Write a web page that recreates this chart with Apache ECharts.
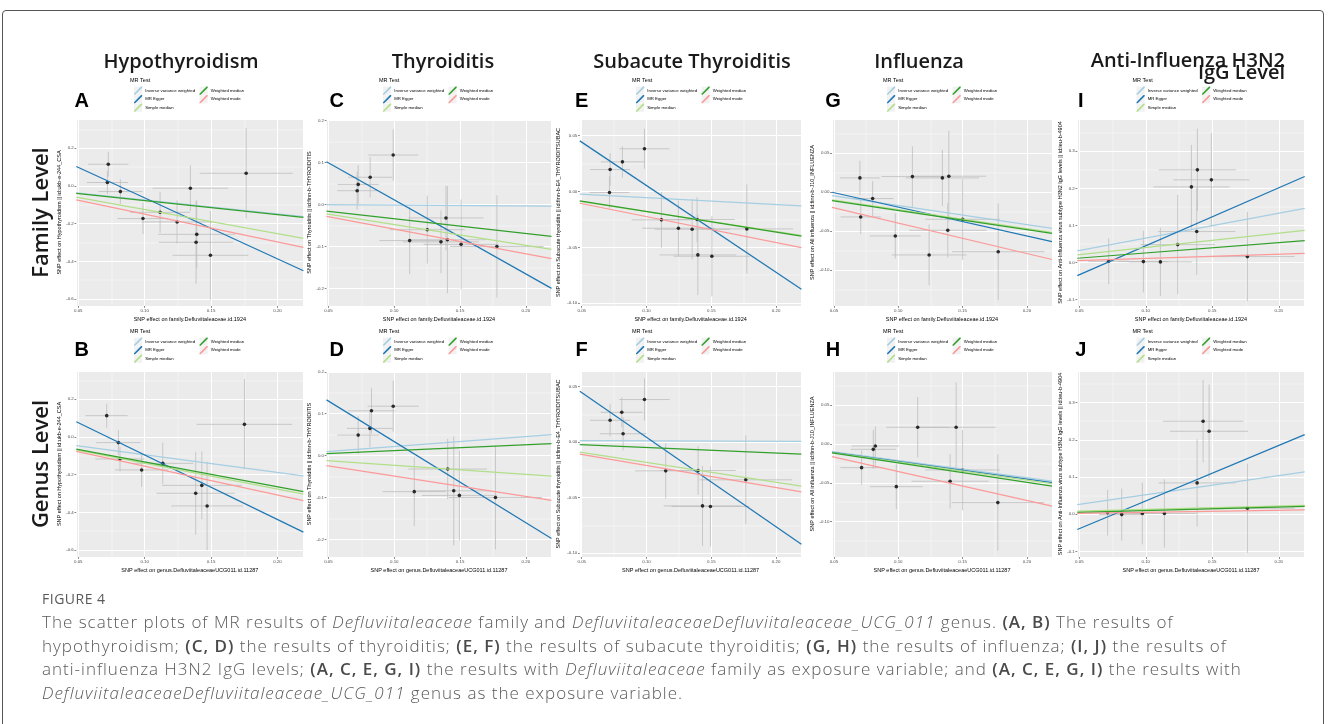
<!DOCTYPE html>
<html>
<head>
<meta charset="utf-8">
<script src="https://cdn.jsdelivr.net/npm/echarts@6/dist/echarts.min.js"></script>
<style>
  html, body { margin: 0; padding: 0; background: #fff; }
  #wrap { position: relative; width: 1328px; height: 724px; overflow: hidden; }
  #frame { position: absolute; left: 2px; top: 10px; width: 1320px; height: 780px; border: 1px solid #555; border-radius: 4px; }
  #chart { position: absolute; left: 0; top: 0; width: 1328px; height: 724px; }
  #cap { position: absolute; left: 42px; top: 589px; font-family: 'Open Sans', sans-serif; color: #5a5a5a; white-space: nowrap; }
  #cap .fig { font-size: 14px; letter-spacing: 0.5px; height: 21px; line-height: 20px; }
  #cap .ln { font-size: 17px; line-height: 23.7px; font-weight: 300; letter-spacing: 1px; }
  #cap b { font-weight: 600; color: #4a4a4a; }
</style>
</head>
<body>
<div id="wrap">
  <div id="frame"></div>
  <div id="chart"></div>
  <div id="cap">
    <div class="fig">FIGURE 4</div>
    <div class="ln">The scatter plots of MR results of <i>Defluviitaleaceae</i> family and <i>DefluviitaleaceaeDefluviitaleaceae_UCG_011</i> genus. <b>(A, B)</b> The results of</div>
    <div class="ln">hypothyroidism; <b>(C, D)</b> the results of thyroiditis; <b>(E, F)</b> the results of subacute thyroiditis; <b>(G, H)</b> the results of influenza; <b>(I, J)</b> the results of</div>
    <div class="ln">anti-influenza H3N2 IgG levels; <b>(A, C, E, G, I)</b> the results with <i>Defluviitaleaceae</i> family as exposure variable; and <b>(A, C, E, G, I)</b> the results with</div>
    <div class="ln"><i>DefluviitaleaceaeDefluviitaleaceae_UCG_011</i> genus as the exposure variable.</div>
  </div>
</div>
<script>
// MR methods, legend order (first three in column 1, last two in column 2)
const METHODS = ['Inverse variance weighted', 'MR Egger', 'Simple median', 'Weighted median', 'Weighted mode'];
const METHOD_COLORS = ['#A6CEE3', '#1F78B4', '#B2DF8A', '#33A02C', '#FB9A99'];

const COL_TITLES = ['Hypothyroidism', 'Thyroiditis', 'Subacute Thyroiditis', 'Influenza'];
const ROW_TITLES = ['Family Level', 'Genus Level'];
const Y_TITLES = [
  'SNP effect on Hypothyroidism || id:ukb-e-244_CSA',
  'SNP effect on Thyroiditis || id:finn-b-THYROIDITIS',
  'SNP effect on Subacute thyroiditis || id:finn-b-E4_THYROIDITSUBAC',
  'SNP effect on All influenza || id:finn-b-J10_INFLUENZA',
  'SNP effect on Anti-Influenza virus subtype H3N2 IgG levels || id:ieu-b-4904'
];
const X_TITLES = ['SNP effect on family.Defluviitaleaceae.id.1924', 'SNP effect on genus.DefluviitaleaceaeUCG011.id.11287'];

// SNP points: [beta exposure, beta outcome, se exposure, se outcome]
const A_pts = [[0.0726, 0.115, 0.0151, 0.066], [0.0719, 0.018, 0.0155, 0.062], [0.0817, -0.030, 0.0166, 0.065],
  [0.0987, -0.173, 0.019, 0.082], [0.1116, -0.140, 0.0226, 0.109], [0.1244, -0.191, 0.0266, 0.115],
  [0.1344, -0.012, 0.0285, 0.121], [0.1392, -0.257, 0.029, 0.18], [0.1387, -0.299, 0.028, 0.22],
  [0.1495, -0.368, 0.0285, 0.235], [0.1764, 0.067, 0.035, 0.24]];
const B_pts = [[0.0714, 0.113, 0.0158, 0.064], [0.0802, -0.030, 0.0167, 0.066], [0.0814, -0.117, 0.0186, 0.066],
  [0.0977, -0.175, 0.02, 0.09], [0.1136, -0.140, 0.023, 0.11], [0.143, -0.257, 0.03, 0.18],
  [0.1384, -0.299, 0.0295, 0.22], [0.147, -0.366, 0.027, 0.235], [0.1751, 0.067, 0.036, 0.24]];
const C_pts = [[0.0992, 0.118, 0.019, 0.061], [0.0817, 0.065, 0.0167, 0.048], [0.0726, 0.048, 0.0156, 0.046],
  [0.0718, 0.033, 0.0152, 0.046], [0.1393, -0.032, 0.0285, 0.077], [0.1251, -0.060, 0.0285, 0.081],
  [0.1117, -0.086, 0.023, 0.08], [0.1355, -0.089, 0.029, 0.075], [0.1404, -0.084, 0.029, 0.128],
  [0.1508, -0.095, 0.0285, 0.107], [0.178, -0.10, 0.0355, 0.122]];
const D_pts = [[0.0992, 0.118, 0.0195, 0.061], [0.0827, 0.107, 0.0178, 0.054], [0.0815, 0.065, 0.0174, 0.045],
  [0.0726, 0.049, 0.0159, 0.045], [0.1406, -0.032, 0.030, 0.072], [0.1152, -0.086, 0.024, 0.082],
  [0.1452, -0.084, 0.0285, 0.13], [0.1495, -0.095, 0.0285, 0.107], [0.1769, -0.10, 0.0355, 0.124]];
const E_pts = [[0.0984, 0.0383, 0.0193, 0.018], [0.0814, 0.0266, 0.0167, 0.014], [0.0719, 0.0197, 0.0154, 0.0145],
  [0.0714, -0.0009, 0.0154, 0.0145], [0.1115, -0.0254, 0.023, 0.025], [0.139, -0.0251, 0.029, 0.02],
  [0.1246, -0.0329, 0.028, 0.025], [0.1352, -0.0338, 0.029, 0.027], [0.1774, -0.0335, 0.0357, 0.04],
  [0.1396, -0.0568, 0.0296, 0.036], [0.1504, -0.058, 0.0296, 0.036]];
const F_pts = [[0.0984, 0.0383, 0.0195, 0.019], [0.0809, 0.0268, 0.0163, 0.0135], [0.0719, 0.0196, 0.0156, 0.0145],
  [0.0819, 0.0075, 0.018, 0.015], [0.1148, -0.0259, 0.0236, 0.025], [0.1398, -0.0256, 0.029, 0.022],
  [0.1766, -0.034, 0.0357, 0.04], [0.1432, -0.0575, 0.03, 0.036], [0.1493, -0.058, 0.03, 0.036]];
const G_pts = [[0.0702, 0.0184, 0.0156, 0.022], [0.0801, -0.0081, 0.0162, 0.0225], [0.0708, -0.0317, 0.0156, 0.022],
  [0.111, 0.0201, 0.024, 0.039], [0.1343, 0.0184, 0.0285, 0.036], [0.1393, 0.0206, 0.029, 0.058],
  [0.0977, -0.0561, 0.0197, 0.029], [0.124, -0.0805, 0.029, 0.039], [0.1385, -0.0488, 0.03, 0.035],
  [0.15, -0.0347, 0.029, 0.052], [0.1777, -0.0763, 0.036, 0.062]];
const H_pts = [[0.1151, 0.0215, 0.0244, 0.039], [0.145, 0.0215, 0.0305, 0.058], [0.0822, -0.0026, 0.0184, 0.025],
  [0.0806, -0.0069, 0.0175, 0.025], [0.0715, -0.0305, 0.0165, 0.022], [0.0985, -0.055, 0.0205, 0.029],
  [0.15, -0.0335, 0.029, 0.052], [0.1403, -0.048, 0.03, 0.035], [0.1774, -0.0755, 0.036, 0.062]];
const I_pts = [[0.1388, 0.250, 0.029, 0.111], [0.1493, 0.223, 0.0286, 0.126], [0.1343, 0.204, 0.0286, 0.113],
  [0.1383, 0.0836, 0.029, 0.117], [0.124, 0.0485, 0.028, 0.134], [0.0721, 0.0036, 0.0153, 0.0616],
  [0.0982, 0.0027, 0.0188, 0.083], [0.111, 0.0018, 0.0236, 0.092], [0.1764, 0.0162, 0.0355, 0.12]];
const J_pts = [[0.1431, 0.25, 0.0303, 0.111], [0.1476, 0.223, 0.0293, 0.126], [0.1386, 0.0842, 0.029, 0.117],
  [0.0713, 0.004, 0.0153, 0.0616], [0.0819, -0.001, 0.017, 0.07], [0.0974, 0.002, 0.0188, 0.083],
  [0.114, 0.002, 0.0236, 0.092], [0.1764, 0.016, 0.0355, 0.12]];

// fitted lines, read at the left and right edge of each panel, in METHODS order
const A_fits = [[-0.037, -0.163], [0.103, -0.45], [-0.060, -0.278], [-0.040, -0.167], [-0.074, -0.326]];
const B_fits = [[-0.046, -0.207], [0.081, -0.505], [-0.069, -0.303], [-0.065, -0.290], [-0.076, -0.338]];
const C_fits = [[0.0, -0.004], [0.102, -0.2], [-0.022, -0.107], [-0.016, -0.076], [-0.028, -0.129]];
const D_fits = [[0.0095, 0.050], [0.133, -0.198], [-0.012, -0.049], [0.0048, 0.0285], [-0.024, -0.107]];
const E_fits = [[-0.0024, -0.0129], [0.0454, -0.0876], [-0.0088, -0.0394], [-0.0084, -0.040], [-0.0105, -0.0502]];
const F_fits = [[0.0012, 0.0006], [0.0458, -0.092], [-0.009, -0.0396], [-0.0024, -0.0108], [-0.0108, -0.0448]];
const G_fits = [[-0.0043, -0.0463], [0.0, -0.0634], [-0.0099, -0.0516], [-0.0107, -0.0529], [-0.0193, -0.0863]];
const H_fits = [[-0.0100, -0.048], [-0.0107, -0.0498], [-0.011, -0.051], [-0.0115, -0.0544], [-0.0163, -0.080]];
const I_fits = [[0.0314, 0.146], [-0.035, 0.232], [0.0207, 0.087], [0.0117, 0.059], [0.0054, 0.025]];
const J_fits = [[0.026, 0.114], [-0.041, 0.214], [0.008, 0.024], [0.005, 0.021], [0.002, 0.012]];

const X_MIN = 0.0485, X_MAX = 0.2195;

// panel layout
const COLS = [
  { left: 76.3, width: 227.1, key: 134, letter: 81.7, nameGap: 13.5 },
  { left: 326.5, width: 225, key: 383, letter: 336.7, nameGap: 13.5 },
  { left: 579.8, width: 221.6, key: 636, letter: 581.7, nameGap: 18.5 },
  { left: 832, width: 220, key: 887, letter: 833, nameGap: 16.5 },
  { left: 1077.3, width: 227.4, key: 1136.5, letter: 1080.7, nameGap: 13.5 }
];
const ROWS = [
  { top: 119, height: 187, legend: 86.6, letter: 101, mr: 80.7 },
  { top: 371, height: 186, legend: 337.6, letter: 350, mr: 331.7 }
];
const PANELS = [
  { id: 'A', pts: A_pts, fits: A_fits, col: 0, row: 0, ymin: -0.637, ymax: 0.355, step: 0.2, dec: 1 },
  { id: 'B', pts: B_pts, fits: B_fits, col: 0, row: 1, ymin: -0.637, ymax: 0.350, step: 0.2, dec: 1 },
  { id: 'C', pts: C_pts, fits: C_fits, col: 1, row: 0, ymin: -0.242, ymax: 0.204, step: 0.1, dec: 1 },
  { id: 'D', pts: D_pts, fits: D_fits, col: 1, row: 1, ymin: -0.242, ymax: 0.202, step: 0.1, dec: 1 },
  { id: 'E', pts: E_pts, fits: E_fits, col: 2, row: 0, ymin: -0.1026, ymax: 0.065, step: 0.05, dec: 2 },
  { id: 'F', pts: F_pts, fits: F_fits, col: 2, row: 1, ymin: -0.1035, ymax: 0.064, step: 0.05, dec: 2 },
  { id: 'G', pts: G_pts, fits: G_fits, col: 3, row: 0, ymin: -0.146, ymax: 0.094, step: 0.05, dec: 2 },
  { id: 'H', pts: H_pts, fits: H_fits, col: 3, row: 1, ymin: -0.1456, ymax: 0.094, step: 0.05, dec: 2 },
  { id: 'I', pts: I_pts, fits: I_fits, col: 4, row: 0, ymin: -0.117, ymax: 0.387, step: 0.1, dec: 1 },
  { id: 'J', pts: J_pts, fits: J_fits, col: 4, row: 1, ymin: -0.115, ymax: 0.385, step: 0.1, dec: 1 }
];

const FONT = 'Liberation Sans';
const HEAD_FONT = 'Open Sans';

// gray error bars (x and y) clipped to the panel
function renderBars(params, api) {
  const cs = params.coordSys;
  const cx = v => Math.max(cs.x, Math.min(cs.x + cs.width, v));
  const cy = v => Math.max(cs.y, Math.min(cs.y + cs.height, v));
  const x = api.value(0), y = api.value(1), sx = api.value(2), sy = api.value(3);
  const l = api.coord([x - sx, y]), r = api.coord([x + sx, y]);
  const t = api.coord([x, y + sy]), b = api.coord([x, y - sy]);
  const st = { stroke: '#BEBEBE', lineWidth: 0.8 };
  return {
    type: 'group',
    children: [
      { type: 'line', shape: { x1: cx(l[0]), y1: l[1], x2: cx(r[0]), y2: r[1] }, style: st },
      { type: 'line', shape: { x1: t[0], y1: cy(t[1]), x2: b[0], y2: cy(b[1]) }, style: st }
    ]
  };
}

let grid = [], xAxis = [], yAxis = [], series = [], legend = [], graphic = [];

PANELS.forEach((p, i) => {
  const c = COLS[p.col], r = ROWS[p.row];
  grid.push({ left: c.left, top: r.top, width: c.width, height: r.height, show: false });
  // panel background, under the axes' white grid lines
  graphic.push({ type: 'rect', z: -10, silent: true,
    shape: { x: c.left, y: r.top, width: c.width, height: r.height }, style: { fill: '#EBEBEB' } });

  const axisCommon = {
    z: 1,
    axisLine: { show: false, onZero: false },
    axisTick: { show: true, length: 1.8, lineStyle: { color: '#333', width: 0.6 } },
    splitLine: { show: true, lineStyle: { color: '#FFFFFF', width: 1, type: 'solid' } },
    minorTick: { show: false, splitNumber: 2 },
    minorSplitLine: { show: true, lineStyle: { color: '#FFFFFF', width: 0.45, type: 'solid' } },
    nameTextStyle: { fontFamily: FONT, fontSize: 5.5, color: '#000' }
  };
  xAxis.push(Object.assign({}, axisCommon, {
    type: 'value', gridIndex: i, min: X_MIN, max: X_MAX, minInterval: 0.05, maxInterval: 0.05,
    name: X_TITLES[p.row], nameLocation: 'middle', nameGap: 10.5,
    axisLabel: { fontFamily: FONT, fontSize: 4.4, color: '#4D4D4D', margin: 2.5,
      showMinLabel: false, showMaxLabel: false, formatter: v => v.toFixed(2) }
  }));
  yAxis.push(Object.assign({}, axisCommon, {
    type: 'value', gridIndex: i, min: p.ymin, max: p.ymax, minInterval: p.step, maxInterval: p.step,
    name: Y_TITLES[p.col], nameLocation: 'middle', nameRotate: 90, nameGap: c.nameGap,
    axisLabel: { fontFamily: FONT, fontSize: 4.4, color: '#4D4D4D', margin: 2.5,
      showMinLabel: false, showMaxLabel: false, formatter: v => v.toFixed(p.dec) }
  }));

  series.push({
    type: 'custom', xAxisIndex: i, yAxisIndex: i, renderItem: renderBars,
    data: p.pts, encode: { x: 0, y: 1 }, z: 3, silent: true
  });
  series.push({
    type: 'scatter', xAxisIndex: i, yAxisIndex: i, data: p.pts.map(d => [d[0], d[1]]),
    symbolSize: 3.6, itemStyle: { color: '#000' }, z: 4, silent: true
  });
  METHODS.forEach((m, k) => {
    series.push({
      type: 'line', name: m, xAxisIndex: i, yAxisIndex: i,
      data: [[X_MIN, p.fits[k][0]], [X_MAX, p.fits[k][1]]],
      symbol: 'none', clip: true, z: 5, silent: true,
      itemStyle: { color: METHOD_COLORS[k] },
      lineStyle: { color: METHOD_COLORS[k], width: 1.25 }
    });
  });

  // legend: two columns
  const legBase = {
    orient: 'vertical', top: r.legend, padding: 0, itemWidth: 8.2, itemHeight: 8.2, itemGap: 0.3,
    icon: 'path://M0,10L0,8.6L8.6,0L10,0L10,1.4L1.4,10Z',
    textStyle: { fontFamily: FONT, fontSize: 4.3, color: '#000', padding: [0, 0, 0, -2] },
    selectedMode: false
  };
  legend.push(Object.assign({}, legBase, { left: c.key, data: METHODS.slice(0, 3) }));
  legend.push(Object.assign({}, legBase, { left: c.key + 65.5, data: METHODS.slice(3) }));
  for (let k = 0; k < 5; k++) {
    const kx = c.key + (k < 3 ? 0 : 65.5), ky = r.legend + (k % 3) * 8.5;
    graphic.push({ type: 'rect', shape: { x: kx, y: ky, width: 8.2, height: 8.2 }, style: { fill: '#F2F2F2' }, z: -10, silent: true });
  }
  graphic.push({ type: 'text', x: c.key - 4, y: r.mr, silent: true,
    style: { text: 'MR Test', fontFamily: FONT, fontSize: 5.5, fill: '#000', align: 'left', verticalAlign: 'middle' } });
  graphic.push({ type: 'text', x: c.letter, y: r.letter, silent: true,
    style: { text: p.id, fontFamily: FONT, fontSize: 20, fontWeight: 'bold', fill: '#000', align: 'center', verticalAlign: 'middle' } });
});

// column and row headers
const COL_CENTERS = [181, 443, 692, 919];
COL_TITLES.forEach((t, k) => {
  graphic.push({ type: 'text', x: COL_CENTERS[k], y: 62, silent: true,
    style: { text: t, fontFamily: HEAD_FONT, fontSize: 20, fontWeight: 600, fill: '#1a1a1a', align: 'center', verticalAlign: 'middle' } });
});
graphic.push({ type: 'text', x: 1285, y: 61, silent: true,
  style: { text: 'Anti-Influenza H3N2', fontFamily: HEAD_FONT, fontSize: 20, fontWeight: 600, fill: '#1a1a1a', align: 'right', verticalAlign: 'middle' } });
graphic.push({ type: 'text', x: 1285, y: 73, silent: true,
  style: { text: 'IgG Level', fontFamily: HEAD_FONT, fontSize: 20, fontWeight: 600, fill: '#1a1a1a', align: 'right', verticalAlign: 'middle' } });
ROW_TITLES.forEach((t, k) => {
  graphic.push({ type: 'text', x: 42, y: ROWS[k].top + ROWS[k].height / 2, rotation: Math.PI / 2, silent: true,
    style: { text: t, fontFamily: HEAD_FONT, fontSize: 22, fontWeight: 600, fill: '#1a1a1a', align: 'center', verticalAlign: 'middle' } });
});

const chart = echarts.init(document.getElementById('chart'), null, { renderer: 'canvas' });
chart.setOption({
  animation: false,
  grid: grid, xAxis: xAxis, yAxis: yAxis, series: series, legend: legend, graphic: graphic,
  tooltip: { show: false }
});
</script>
</body>
</html>
